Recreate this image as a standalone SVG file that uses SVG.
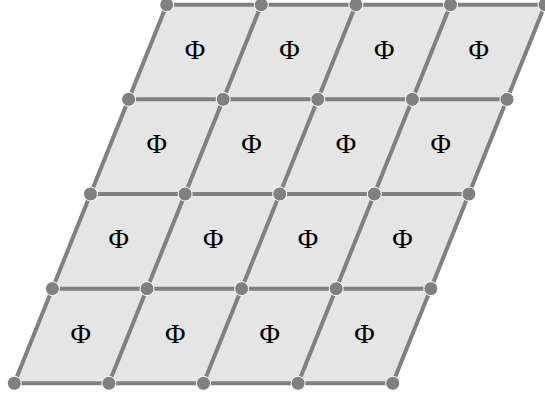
<svg xmlns="http://www.w3.org/2000/svg" width="545" height="395" viewBox="0 0 545 395">
<style>
.cell{fill:#e5e5e5;stroke:none}
.lbl{font-family:"Liberation Serif","Times New Roman",serif;font-size:28px;fill:#000;text-anchor:middle}
.edge{stroke:#808080;stroke-width:4;fill:none;stroke-linecap:butt}
.v{fill:#808080;stroke:#ffffff;stroke-width:1}
</style>
<rect width="545" height="395" fill="#ffffff"/>
<g id="cells">
<g id="c00"><polygon class="cell" points="14.3,383.3 108.9,383.3 147,288.65 52.4,288.65"/><text class="lbl" x="80.65" y="342.5">Φ</text></g>
<g id="c10"><polygon class="cell" points="108.9,383.3 203.5,383.3 241.6,288.65 147,288.65"/><text class="lbl" x="175.25" y="342.5">Φ</text></g>
<g id="c20"><polygon class="cell" points="203.5,383.3 298.1,383.3 336.2,288.65 241.6,288.65"/><text class="lbl" x="269.85" y="342.5">Φ</text></g>
<g id="c30"><polygon class="cell" points="298.1,383.3 392.7,383.3 430.8,288.65 336.2,288.65"/><text class="lbl" x="364.45" y="342.5">Φ</text></g>
<g id="c01"><polygon class="cell" points="52.4,288.65 147,288.65 185.1,194 90.5,194"/><text class="lbl" x="118.75" y="247.85">Φ</text></g>
<g id="c11"><polygon class="cell" points="147,288.65 241.6,288.65 279.7,194 185.1,194"/><text class="lbl" x="213.35" y="247.85">Φ</text></g>
<g id="c21"><polygon class="cell" points="241.6,288.65 336.2,288.65 374.3,194 279.7,194"/><text class="lbl" x="307.95" y="247.85">Φ</text></g>
<g id="c31"><polygon class="cell" points="336.2,288.65 430.8,288.65 468.9,194 374.3,194"/><text class="lbl" x="402.55" y="247.85">Φ</text></g>
<g id="c02"><polygon class="cell" points="90.5,194 185.1,194 223.2,99.35 128.6,99.35"/><text class="lbl" x="156.85" y="153.2">Φ</text></g>
<g id="c12"><polygon class="cell" points="185.1,194 279.7,194 317.8,99.35 223.2,99.35"/><text class="lbl" x="251.45" y="153.2">Φ</text></g>
<g id="c22"><polygon class="cell" points="279.7,194 374.3,194 412.4,99.35 317.8,99.35"/><text class="lbl" x="346.05" y="153.2">Φ</text></g>
<g id="c32"><polygon class="cell" points="374.3,194 468.9,194 507,99.35 412.4,99.35"/><text class="lbl" x="440.65" y="153.2">Φ</text></g>
<g id="c03"><polygon class="cell" points="128.6,99.35 223.2,99.35 261.3,4.7 166.7,4.7"/><text class="lbl" x="194.95" y="58.55">Φ</text></g>
<g id="c13"><polygon class="cell" points="223.2,99.35 317.8,99.35 355.9,4.7 261.3,4.7"/><text class="lbl" x="289.55" y="58.55">Φ</text></g>
<g id="c23"><polygon class="cell" points="317.8,99.35 412.4,99.35 450.5,4.7 355.9,4.7"/><text class="lbl" x="384.15" y="58.55">Φ</text></g>
<g id="c33"><polygon class="cell" points="412.4,99.35 507,99.35 545.1,4.7 450.5,4.7"/><text class="lbl" x="478.75" y="58.55">Φ</text></g>
</g>
<g id="connectors">
<line class="edge" x1="14.3" y1="383.3" x2="392.7" y2="383.3"/>
<line class="edge" x1="52.4" y1="288.65" x2="430.8" y2="288.65"/>
<line class="edge" x1="90.5" y1="194" x2="468.9" y2="194"/>
<line class="edge" x1="128.6" y1="99.35" x2="507" y2="99.35"/>
<line class="edge" x1="166.7" y1="4.7" x2="545.1" y2="4.7"/>
<line class="edge" x1="14.3" y1="383.3" x2="166.7" y2="4.7"/>
<line class="edge" x1="108.9" y1="383.3" x2="261.3" y2="4.7"/>
<line class="edge" x1="203.5" y1="383.3" x2="355.9" y2="4.7"/>
<line class="edge" x1="298.1" y1="383.3" x2="450.5" y2="4.7"/>
<line class="edge" x1="392.7" y1="383.3" x2="545.1" y2="4.7"/>
</g>
<g id="vertices">
<g id="v00"><circle class="v" cx="14.3" cy="383.3" r="7"/></g>
<g id="v10"><circle class="v" cx="108.9" cy="383.3" r="7"/></g>
<g id="v20"><circle class="v" cx="203.5" cy="383.3" r="7"/></g>
<g id="v30"><circle class="v" cx="298.1" cy="383.3" r="7"/></g>
<g id="v40"><circle class="v" cx="392.7" cy="383.3" r="7"/></g>
<g id="v01"><circle class="v" cx="52.4" cy="288.65" r="7"/></g>
<g id="v11"><circle class="v" cx="147" cy="288.65" r="7"/></g>
<g id="v21"><circle class="v" cx="241.6" cy="288.65" r="7"/></g>
<g id="v31"><circle class="v" cx="336.2" cy="288.65" r="7"/></g>
<g id="v41"><circle class="v" cx="430.8" cy="288.65" r="7"/></g>
<g id="v02"><circle class="v" cx="90.5" cy="194" r="7"/></g>
<g id="v12"><circle class="v" cx="185.1" cy="194" r="7"/></g>
<g id="v22"><circle class="v" cx="279.7" cy="194" r="7"/></g>
<g id="v32"><circle class="v" cx="374.3" cy="194" r="7"/></g>
<g id="v42"><circle class="v" cx="468.9" cy="194" r="7"/></g>
<g id="v03"><circle class="v" cx="128.6" cy="99.35" r="7"/></g>
<g id="v13"><circle class="v" cx="223.2" cy="99.35" r="7"/></g>
<g id="v23"><circle class="v" cx="317.8" cy="99.35" r="7"/></g>
<g id="v33"><circle class="v" cx="412.4" cy="99.35" r="7"/></g>
<g id="v43"><circle class="v" cx="507" cy="99.35" r="7"/></g>
<g id="v04"><circle class="v" cx="166.7" cy="4.7" r="7"/></g>
<g id="v14"><circle class="v" cx="261.3" cy="4.7" r="7"/></g>
<g id="v24"><circle class="v" cx="355.9" cy="4.7" r="7"/></g>
<g id="v34"><circle class="v" cx="450.5" cy="4.7" r="7"/></g>
<g id="v44"><circle class="v" cx="545.1" cy="4.7" r="7"/></g>
</g>
</svg>
